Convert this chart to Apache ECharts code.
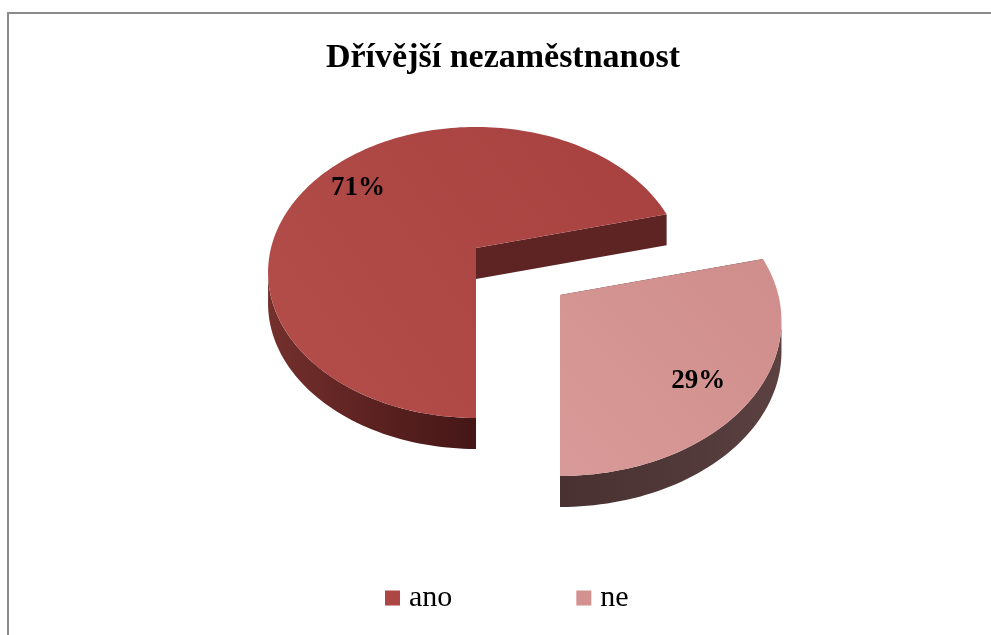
<!DOCTYPE html>
<html><head><meta charset="utf-8">
<script src="https://cdn.jsdelivr.net/npm/echarts@6.0.0/dist/echarts.min.js"></script>
<style>html,body{margin:0;padding:0;background:#fff}#c{width:991px;height:635px}</style>
</head><body><div id="c"></div>
<script>
const chartTitle = 'Dřívější nezaměstnanost';
const categories = ['ano', 'ne'];
const values = [71, 29];
const valueLabels = ['71%', '29%'];

// drawing style (not data)
const G = {cx: 476, cy: 248, R: 205, Rk: 141.4, p: 0.168, depth: 31, start: 90, labelR: 0.78};
const explodeStyle = [{dx: 0, dy: 0, sc: 1}, {dx: 84, dy: 47, sc: 1.065}];
const labelNudge = [[-1, 3], [-8, 8]];
const sliceStyle = [
  {top: ['#A7413F', '#B34E4B'], wall: ['#74302D', '#5C2221', '#451616'], cut: '#5E2424', legend: '#AD4744'},
  {top: ['#CF8D8B', '#D89A98'], wall: ['#4A3131', '#503838', '#5C4141'], cut: '#3E2929', legend: '#D39190'}
];

const total = values.reduce((a, b) => a + b, 0);
const cum = values.map((v, i) => values.slice(0, i).reduce((a, b) => a + b, 0));

function proj(th, r) {
  const rad = th * Math.PI / 180, u = Math.cos(rad) * r, v = Math.sin(rad) * r, s = 1 / (1 - G.p * v);
  return [G.cx + G.R * u * s, G.cy + G.Rk * v * s];
}
function arcPts(a0, a1) {
  const n = Math.max(2, Math.ceil(Math.abs(a1 - a0) / 1.5));
  const pts = [];
  for (let i = 0; i <= n; i++) pts.push(proj(a0 + (a1 - a0) * i / n, 1));
  return pts;
}

function renderSlice(params, api) {
  const idx = api.value(0);
  const ex = explodeStyle[idx], st = sliceStyle[idx];
  const T = p => [G.cx + (p[0] - G.cx) * ex.sc + ex.dx, G.cy + (p[1] - G.cy) * ex.sc + ex.dy];
  const D = p => [p[0], p[1] + G.depth];
  const a0 = G.start + 360 * cum[idx] / total;
  const a1 = a0 + 360 * values[idx] / total;
  const apex = T([G.cx, G.cy]);
  const children = [];
  const grad = (x0, y0, x1, y1, cols) => new echarts.graphic.LinearGradient(x0, y0, x1, y1,
    cols.map((c, i) => ({offset: i / (cols.length - 1), color: c})), true);

  // cut faces
  [a0, a1].forEach(a => {
    const e = T(proj(a, 1));
    children.push({type: 'polygon', shape: {points: [apex, e, D(e), D(apex)]},
      style: {fill: st.cut}});
  });
  // outer wall, visible front part only
  const sil = Math.asin(G.p) * 180 / Math.PI;
  for (let k = 0; k < 2; k++) {
    const lo = Math.max(a0, sil + 360 * k), hi = Math.min(a1, 180 - sil + 360 * k);
    if (hi > lo) {
      const top = arcPts(lo, hi).map(T);
      const bot = top.map(D).reverse();
      const xs = top.map(p => p[0]);
      children.push({type: 'polygon', shape: {points: top.concat(bot)},
        style: {fill: grad(Math.min(...xs), 0, Math.max(...xs), 0, st.wall)}});
    }
  }
  // top face
  const topPts = [apex].concat(arcPts(a0, a1).map(T));
  const ys = topPts.map(p => p[1]), xs2 = topPts.map(p => p[0]);
  children.push({type: 'polygon', shape: {points: topPts},
    style: {fill: grad(Math.max(...xs2), Math.min(...ys), Math.min(...xs2), Math.max(...ys), st.top)}});
  // label
  const lp = T(proj((a0 + a1) / 2, G.labelR));
  children.push({type: 'text', x: lp[0] + labelNudge[idx][0], y: lp[1] + labelNudge[idx][1],
    style: {text: valueLabels[idx], align: 'center',
    verticalAlign: 'middle', font: 'bold 27px "Liberation Serif"', fill: '#000'}});
  return {type: 'group', children};
}

const chart = echarts.init(document.getElementById('c'), null, {renderer: 'canvas'});
chart.setOption({
  animation: false,
  backgroundColor: '#fff',
  title: {text: chartTitle, left: 503, top: 41, textAlign: 'center', padding: 0,
    textStyle: {fontFamily: 'Liberation Serif', fontWeight: 'bold', fontSize: 34, color: '#000'}},
  legend: {data: categories, left: 385, top: 583, padding: 0, itemWidth: 15, itemHeight: 15, itemGap: 124,
    icon: 'rect', selectedMode: false,
    textStyle: {fontFamily: 'Liberation Serif', fontSize: 30, color: '#000', padding: [0, 0, 0, 4]}},
  graphic: [{type: 'rect', silent: true, shape: {x: 8, y: 13, width: 1100, height: 800},
    style: {fill: 'none', stroke: '#8A8A8A', lineWidth: 2}}],
  series: categories.map((name, i) => ({
    type: 'custom', name, coordinateSystem: 'none', silent: true,
    itemStyle: {color: sliceStyle[i].legend},
    renderItem: renderSlice, data: [[i]]
  }))
});
</script></body></html>
